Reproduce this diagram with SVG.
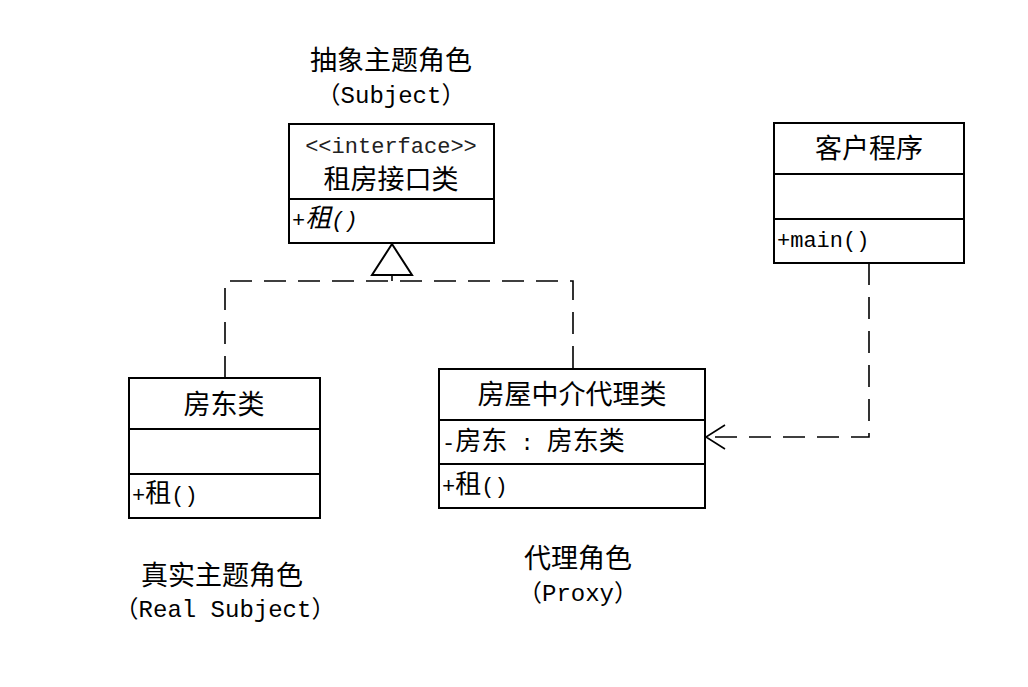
<svg xmlns="http://www.w3.org/2000/svg" width="1028" height="687" viewBox="0 0 1028 687">
<style>
.box{fill:#fff;stroke:#000;stroke-width:2}
.ln{stroke:#000;stroke-width:2}
.t{font-family:"Liberation Mono","Noto Sans CJK SC",monospace;fill:#000}
.c{font-size:27px;text-anchor:middle}
.p{font-size:24px;text-anchor:middle}
.s{font-size:22px}
.k{font-size:26px}
.dash{fill:none;stroke:#000;stroke-width:1.6;stroke-dasharray:22 12}
</style>
<rect width="1028" height="687" fill="#fff"/>
<g id="connectors">
<path class="dash" d="M225,378 V281 H573 V369"/>
<line x1="392" y1="275" x2="392" y2="281" stroke="#000" stroke-width="1.6"/>
<polygon points="392,244 372,275 412,275" fill="#fff" stroke="#000" stroke-width="2"/>
<path class="dash" d="M869,263 V437 H707"/>
<path d="M725,425 L706,437 L725,449" fill="none" stroke="#000" stroke-width="1.6"/>
</g>
<g id="subject-label">
<text class="t c" x="391" y="70">抽象主题角色</text>
<text class="t p" x="391" y="103">（Subject）</text>
</g>
<g id="interface">
<rect class="box" x="289" y="124" width="205" height="119"/>
<line class="ln" x1="289" y1="199" x2="494" y2="199"/>
<text class="t c" x="391" y="153" style="font-size:22px;fill:#222">&lt;&lt;interface&gt;&gt;</text>
<text class="t c" x="391" y="189">租房接口类</text>
<text class="t s" x="292" y="227" font-style="italic">+<tspan class="k">租</tspan>()</text>
</g>
<g id="landlord">
<rect class="box" x="129" y="378" width="191" height="140"/>
<line class="ln" x1="129" y1="429" x2="320" y2="429"/>
<line class="ln" x1="129" y1="474" x2="320" y2="474"/>
<text class="t c" x="224" y="414">房东类</text>
<text class="t s" x="132" y="502">+<tspan class="k">租</tspan>()</text>
</g>
<g id="proxy">
<rect class="box" x="439" y="369" width="266" height="139"/>
<line class="ln" x1="439" y1="420" x2="705" y2="420"/>
<line class="ln" x1="439" y1="464" x2="705" y2="464"/>
<text class="t c" x="572" y="404">房屋中介代理类</text>
<text class="t s" x="442" y="450">-<tspan class="k">房东</tspan> : <tspan class="k">房东类</tspan></text>
<text class="t s" x="442" y="493">+<tspan class="k">租</tspan>()</text>
</g>
<g id="client">
<rect class="box" x="774" y="123" width="190" height="140"/>
<line class="ln" x1="774" y1="174" x2="964" y2="174"/>
<line class="ln" x1="774" y1="219" x2="964" y2="219"/>
<text class="t c" x="869" y="158">客户程序</text>
<text class="t s" x="777" y="247">+main()</text>
</g>
<g id="real-label">
<text class="t c" x="222" y="585">真实主题角色</text>
<text class="t p" x="225" y="617">（Real Subject）</text>
</g>
<g id="proxy-label">
<text class="t c" x="578" y="568">代理角色</text>
<text class="t p" x="578" y="601">（Proxy）</text>
</g>
</svg>
